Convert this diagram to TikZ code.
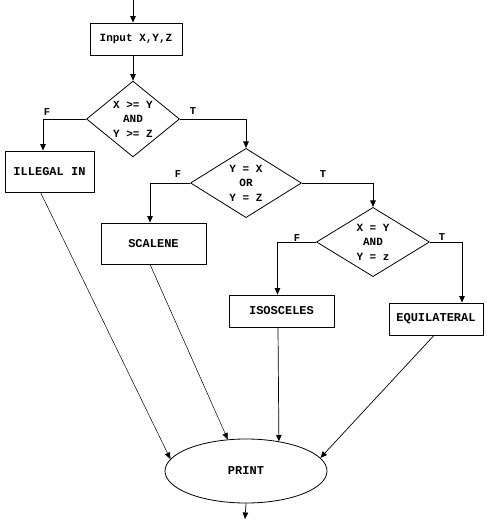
\documentclass[tikz,border=0pt]{standalone}
\usepackage{fontspec}
\setmonofont{Liberation Mono}
\usetikzlibrary{shapes.geometric,arrows.meta}
\tikzset{
  box/.style={draw,line width=0.8pt,inner sep=0pt,font=\ttfamily\bfseries\fontsize{12}{14}\selectfont},
  dia/.style={draw,diamond,line width=0.8pt,inner sep=0pt,align=center,font=\ttfamily\bfseries\fontsize{11}{14.5}\selectfont},
  lbl/.style={font=\ttfamily\bfseries\fontsize{10.5}{12}\selectfont,inner sep=0pt},
  arr/.style={line width=0.7pt,-{Triangle[length=6.5pt,width=5.5pt]}},
  faint/.style={line width=0.5pt,-{Triangle[length=6.5pt,width=5.5pt]}}
}
\begin{document}
\begin{tikzpicture}[x=1pt,y=-1pt]
\useasboundingbox (0,0) rectangle (487,520);
% nodes
\node[box,minimum width=92pt,minimum height=32pt,font=\ttfamily\bfseries\fontsize{11}{12}\selectfont] (in) at (136,39) {Input X,Y,Z};
\node[dia,minimum width=93pt,minimum height=62pt] (d1) at (133,119) {X >= Y\\AND\\Y >= Z};
\node[box,minimum width=89pt,minimum height=41pt] (ill) at (49.5,171.5) {ILLEGAL IN};
\node[dia,minimum width=111pt,minimum height=65pt] (d2) at (246,183) {Y = X\\OR\\Y = Z};
\node[box,minimum width=105pt,minimum height=41pt] (sca) at (153.5,243.5) {SCALENE};
\node[dia,minimum width=113pt,minimum height=69pt] (d3) at (373,242) {X = Y\\AND\\Y = z};
\node[box,minimum width=105pt,minimum height=32pt] (iso) at (281.5,311) {ISOSCELES};
\node[box,minimum width=94pt,minimum height=32pt] (equ) at (436,319) {EQUILATERAL};
\node[box,ellipse,minimum width=162pt,minimum height=64pt] (pr) at (246,471) {PRINT};
% labels
\node[lbl] (f1) at (47,112) {F};
\node[lbl] (t1) at (193,111) {T};
\node[lbl] (f2) at (178,174) {F};
\node[lbl] (t2) at (323,174) {T};
\node[lbl] (f3) at (297,238) {F};
\node[lbl] (t3) at (442,237) {T};
% coordinates
\coordinate (start) at (133,0);
\coordinate (finish) at (245,519);
% connectors
\draw[arr] (start) -- (start |- in.north);
\draw[arr] (d1.north |- in.south) -- (d1.north);
\draw[arr] (d1.west) -| ([xshift=-6.5pt]ill.north);
\draw[arr] (d1.east) -| (d2.north);
\draw[arr] (d2.west) -| ([xshift=-3.5pt]sca.north);
\draw[arr] (d2.east) -| (d3.north);
\draw[arr] (d3.west) -| ([xshift=-4pt]iso.north);
\draw[arr] (d3.east) -| ([xshift=26pt]equ.north);
\draw[faint] ([xshift=-9pt]ill.south) -- (pr.171);
\draw[faint] ([xshift=-3.5pt]sca.south) -- (pr.120);
\draw[arr] ([xshift=-3.5pt]iso.south) -- (pr.42.6);
\draw[arr] ([xshift=-2pt]equ.south) -- (pr.10);
\draw[arr] (pr.south) -- (finish);
\end{tikzpicture}
\end{document}
